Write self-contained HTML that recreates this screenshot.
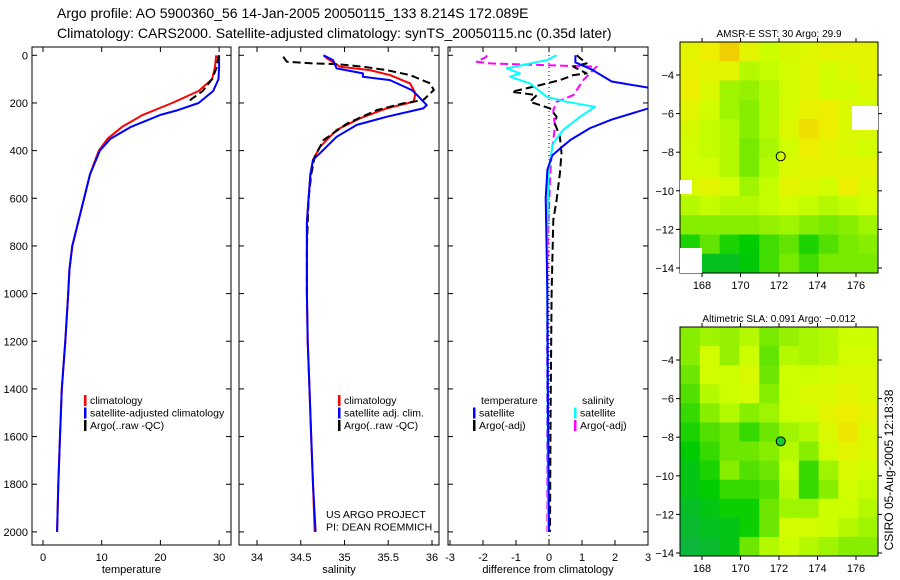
<!DOCTYPE html>
<html><head><meta charset="utf-8"><style>
body{margin:0;background:#fff}
svg{display:block;font-family:"Liberation Sans",sans-serif}
</style></head><body>
<svg id="fig" width="900" height="580" xmlns="http://www.w3.org/2000/svg">
<text x="57" y="18" font-size="14">Argo profile: AO 5900360_56 14-Jan-2005 20050115_133 8.214S 172.089E</text>
<text x="57" y="38" font-size="14">Climatology: CARS2000. Satellite-adjusted climatology: synTS_20050115.nc (0.35d later)</text>
<text transform="translate(893,470) rotate(-90)" font-size="12" text-anchor="middle">CSIRO 05-Aug-2005 12:18:38</text>
<g id="plots"></g>
</svg>
<script>
// ---- data ----
const depthTicks=[0,200,400,600,800,1000,1200,1400,1600,1800,2000];
const tempTicks=[0,10,20,30];
const salTicks=[34,34.5,35,35.5,36];
const diffTicks=[-3,-2,-1,0,1,2,3];
const tClimD=[0,50,100,150,200,250,300,350,400,500,600,700,800,900,1000,1200,1400,1600,1800,2000];
const tClimV=[29.5,29.3,28.8,26.5,22,17,13.5,11,9.5,8,7,6,5,4.5,4.3,3.8,3.2,2.9,2.6,2.4];
const tSatD=[0,50,100,150,200,230,250,300,350,400,500,600,700,800,900,1000,1200,1400,1600,1800,2000];
const tSatV=[30,30,29.9,29,26.5,23,20,15,11.5,9.7,8,7,6,5,4.5,4.3,3.8,3.2,2.9,2.6,2.4];
const tArgoD=[0,50,100,150,180,200];
const tArgoV=[29.9,29.6,28.8,27.2,25.5,24.5];
const sClimD=[0,13,48,62,83,118,160,195,223,264,313,384,439,500,600,700,800,1000,1200,1400,1600,1800,2000];
const sClimV=[34.76,34.8,34.95,35.29,35.52,35.75,35.81,35.79,35.48,35.18,34.91,34.72,34.64,34.61,34.59,34.57,34.57,34.57,34.58,34.6,34.62,34.64,34.66];
const sSatD=[0,20,55,76,90,104,146,167,209,223,258,292,342,411,439,500,600,700,800,1000,1200,1400,1600,1800,2000];
const sSatV=[34.76,34.87,34.91,35.21,35.21,35.52,35.77,35.83,35.94,35.9,35.48,35.14,34.91,34.72,34.64,34.61,34.59,34.57,34.57,34.57,34.58,34.6,34.62,34.64,34.67];
const sArgoD=[6,27,34,37,48,62,83,118,146,188,202,230,286,356,426,500,600,800,1000];
const sArgoV=[34.3,34.34,34.64,34.91,35.21,35.48,35.75,35.98,36.02,35.9,35.67,35.37,35.03,34.76,34.66,34.62,34.59,34.57,34.57];
const dTSatD=[0,30,60,110,140,215,270,305,355,390,420,480,600,1000,1500,2000];
const dTSatV=[0.8,0.8,1.3,1.9,3.2,3.2,1.9,1.25,0.65,0.35,0.1,-0.05,-0.1,-0.05,-0.03,0];
const dTArgoD=[0,34,48,76,83,104,125,153,167,195,209,223,258,286,342,411,495,607,691,1000,1500,2000];
const dTArgoV=[0.84,1.14,0.74,1.14,0.74,0.33,-0.27,-1.13,-0.37,-0.58,-0.27,0.03,0.23,0.18,0.33,0.38,0.33,0.23,0.13,0.08,0.05,0.03];
const dSSatD=[0,20,55,76,90,118,174,195,216,258,313,369,439,523,800,1200,2000];
const dSSatV=[0.23,-0.07,-1.28,-0.88,-1.18,-0.58,-0.07,0.54,1.39,0.94,0.43,0.13,0.03,-0.02,-0.06,-0.05,-0.03];
const dSArgoD=[0,6,27,34,48,104,167,195,230,300,411,523,800,1200,2000];
const dSArgoV=[-1.9,-1.89,-2.19,-1.79,1.44,1.04,0.74,0.23,0.13,0.18,0.08,0.03,-0.04,-0.06,-0.05];
const mapLonTicks=[168,170,172,174,176];
const mapLatTicks=[-4,-6,-8,-10,-12,-14];
const sstGrid=[
[.7,.75,.85,.7,.6,.65,.68,.7,.7,.7],[.72,.7,.7,.55,.58,.62,.7,.62,.67,.7],[.75,.66,.5,.48,.55,.62,.7,.62,.62,.66],
[.7,.62,.5,.45,.55,.63,.72,.75,.66,.62],[.64,.58,.55,.45,.55,.67,.8,.75,.66,.66],[.62,.58,.55,.42,.52,.62,.75,.7,.66,.62],
[.62,.62,.55,.42,.55,.66,.7,.7,.7,.7],[.66,.7,.62,.5,.58,.7,.66,.62,.75,.66],[.55,.58,.55,.55,.58,.62,.58,.55,.58,.62],
[.45,.45,.45,.45,.48,.5,.45,.42,.45,.5],[.25,.38,.25,.2,.32,.38,.25,.35,.42,.45],[.2,.12,.12,.18,.32,.42,.32,.42,.42,.42]];
const slaGrid=[
[.45,.5,.48,.55,.42,.48,.52,.55,.6,.6],[.45,.62,.48,.6,.38,.55,.52,.55,.62,.62],[.4,.62,.6,.66,.4,.6,.6,.62,.66,.66],
[.35,.55,.6,.62,.45,.6,.66,.66,.7,.66],[.3,.45,.55,.45,.5,.6,.62,.7,.75,.7],[.25,.35,.4,.3,.4,.5,.55,.66,.78,.66],
[.2,.3,.4,.4,.45,.55,.45,.62,.7,.66],[.15,.25,.45,.35,.4,.58,.3,.5,.66,.62],[.15,.2,.3,.3,.35,.55,.3,.45,.62,.58],
[.1,.15,.22,.22,.4,.5,.5,.6,.6,.55],[.08,.12,.15,.22,.4,.62,.62,.6,.55,.5],[.05,.08,.15,.4,.55,.6,.55,.5,.45,.45]];
const profileLon=172.089, profileLat=-8.214;

// ---- helpers ----
const NS="http://www.w3.org/2000/svg";
const root=document.getElementById('plots');
function mk(tag,attrs,parent){const e=document.createElementNS(NS,tag);for(const k in attrs)e.setAttribute(k,attrs[k]);(parent||root).appendChild(e);return e;}
const yD=d=>55.3+d*0.2383;
function panel(name,x0,x1,xs,ticks,fmt,xlabel,showDepth){
  const g=mk('g',{});
  
  
  const fr=mk('rect',{x:x0,y:47,width:x1-x0,height:498,fill:'none',stroke:'#000','stroke-width':1},g);
  
  
  ticks.forEach(v=>{const x=xs(v);
    mk('line',{x1:x,x2:x,y1:545,y2:540,stroke:'#000'},g);mk('line',{x1:x,x2:x,y1:47,y2:52,stroke:'#000'},g);
    const t=mk('text',{x:x,y:561,'font-size':11,'text-anchor':'middle'},g);t.textContent=fmt(v);
    
    });
  depthTicks.forEach(d=>{const y=yD(d);
    mk('line',{x1:x0,x2:x0+5,y1:y,y2:y,stroke:'#000'},g);mk('line',{x1:x1,x2:x1-5,y1:y,y2:y,stroke:'#000'},g);
    if(showDepth){const t=mk('text',{x:x0-4,y:y+4,'font-size':11,'text-anchor':'end'},g);t.textContent=d;
      
      }});
  const xl=mk('text',{x:(x0+x1)/2,y:573,'font-size':11,'text-anchor':'middle'},g);xl.textContent=xlabel;
  
  
  const cid='clip'+name;const cp=mk('clipPath',{id:cid},g);mk('rect',{x:x0,y:47,width:x1-x0,height:498},cp);
  const pg=mk('g',{'clip-path':`url(#${cid})`},g);
  return pg;
}
function line(pg,name,D,V,xs,color,dash,w){
  const p=mk('polyline',{points:D.map((d,i)=>xs(V[i]).toFixed(1)+','+yD(d).toFixed(1)).join(' '),fill:'none',stroke:color,'stroke-width':w||2,'stroke-dasharray':dash||'none','stroke-linejoin':'round'},pg);
  
  
}
function legend(rows,x,y){rows.forEach((r,i)=>{
  if(r[1]){const b=mk('rect',{x:x,y:y+i*12.5-9,width:2.5,height:11,fill:r[1]});
    
    }
  const t=mk('text',{x:x+(r[1]?6:0),y:y+i*12.5,'font-size':10.5});t.textContent=r[0];
  
  });}

// temperature
const xT=v=>43+v*5.87;
let pg=panel('temperature-panel',32,231,xT,tempTicks,v=>v,'temperature',true);
line(pg,'temp-climatology',tClimD,tClimV,xT,'#f00');
line(pg,'temp-satellite',tSatD,tSatV,xT,'#00f');
line(pg,'temp-argo',tArgoD,tArgoV,xT,'#000','8,4');
legend([['climatology','#f00'],['satellite-adjusted climatology','#00f'],['Argo(..raw -QC)','#000']],84,404);

// salinity
const xS=v=>257+(v-34)*87.5;
pg=panel('salinity-panel',239,439,xS,salTicks,v=>v,'salinity',false);
line(pg,'sal-climatology',sClimD,sClimV,xS,'#f00');
line(pg,'sal-argo',sArgoD,sArgoV,xS,'#000','8,4');
line(pg,'sal-satellite',sSatD,sSatV,xS,'#00f');
legend([['climatology','#f00'],['satellite adj. clim.','#00f'],['Argo(..raw -QC)','#000']],338,404);
legend([['US ARGO PROJECT',null],['PI: DEAN ROEMMICH',null]],326,518);

// difference
const xDf=v=>549+v*33;
pg=panel('difference-panel',448,648,xDf,diffTicks,v=>v,'difference from climatology',false);
mk('line',{x1:xDf(0),x2:xDf(0),y1:47,y2:545,stroke:'#000','stroke-dasharray':'1,3'},pg);
line(pg,'diff-sal-argo',dSArgoD,dSArgoV,xDf,'#f0f','8,4');
line(pg,'diff-temp-argo',dTArgoD,dTArgoV,xDf,'#000','8,4');
line(pg,'diff-sal-satellite',dSSatD,dSSatV,xDf,'#0ff');
line(pg,'diff-temp-satellite',dTSatD,dTSatV,xDf,'#00f');
legend([['temperature',null]],481,404);
legend([['satellite','#00f'],['Argo(-adj)','#000']],473,416.5);
legend([['salinity',null]],582,404);
legend([['satellite','#0ff'],['Argo(-adj)','#f0f']],574,416.5);

// maps
const stops=[[0,[16,176,80]],[.2,[0,204,0]],[.45,[136,238,0]],[.6,[204,255,0]],[.75,[238,238,0]],[.9,[240,192,0]],[1,[240,144,0]]];
function col(v){for(let i=1;i<stops.length;i++){if(v<=stops[i][0]){const a=stops[i-1],b=stops[i],t=(v-a[0])/(b[0]-a[0]);
  return 'rgb('+a[1].map((c,k)=>Math.round(c+(b[1][k]-c)*t)).join(',')+')';}}return 'rgb(240,144,0)';}
function map(name,grid,top,bottom,title,fillC){
  const L=680,R=878,g=mk('g',{});
  
  
  const xL=lon=>702+(lon-168)*19.25, yL=lat=>top+33+(-4-lat)*19.3;
  const rows=grid.length,cols=grid[0].length,cw=(R-L)/cols,ch=(bottom-top)/rows;
  grid.forEach((row,r)=>row.forEach((v,c)=>{const cell=mk('rect',{x:L+c*cw,y:top+r*ch,width:cw+0.5,height:ch+0.5,fill:col(v)},g);
    
    }));
  mk('rect',{x:L,y:top,width:R-L,height:bottom-top,fill:'none',stroke:'#000'},g);
  mapLonTicks.forEach(lon=>{const x=xL(lon);mk('line',{x1:x,x2:x,y1:top,y2:top-4,stroke:'#000'},g);mk('line',{x1:x,x2:x,y1:bottom,y2:bottom+4,stroke:'#000'},g);
    const t=mk('text',{x:x,y:bottom+16,'font-size':11,'text-anchor':'middle'},g);t.textContent=lon;
    
    });
  mapLatTicks.forEach(lat=>{const y=yL(lat);mk('line',{x1:L,x2:L-4,y1:y,y2:y,stroke:'#000'},g);mk('line',{x1:R,x2:R+4,y1:y,y2:y,stroke:'#000'},g);
    const t=mk('text',{x:L-6,y:y+4,'font-size':11,'text-anchor':'end'},g);t.textContent=String(lat).replace('-','\u2212');
    
    });
  const tt=mk('text',{x:(L+R)/2,y:top-5,'font-size':10,'text-anchor':'middle'},g);tt.textContent=title;
  
  
  const c=mk('circle',{cx:xL(profileLon),cy:yL(profileLat),r:4.5,fill:fillC,stroke:'#000'},g);
  
  
  return g;
}
const m1=map('sst-map',sstGrid,42,273,'AMSR-E SST: 30 Argo: 29.9','none');
mk('rect',{x:852,y:106,width:26,height:24,fill:'#fff'},m1);
mk('rect',{x:680,y:180,width:12,height:14,fill:'#fff'},m1);
mk('rect',{x:680,y:248,width:22,height:25,fill:'#fff'},m1);
map('sla-map',slaGrid,327,556,'Altimetric SLA: 0.091 Argo: \u22120.012','#1c3');
</script>
</body></html>
